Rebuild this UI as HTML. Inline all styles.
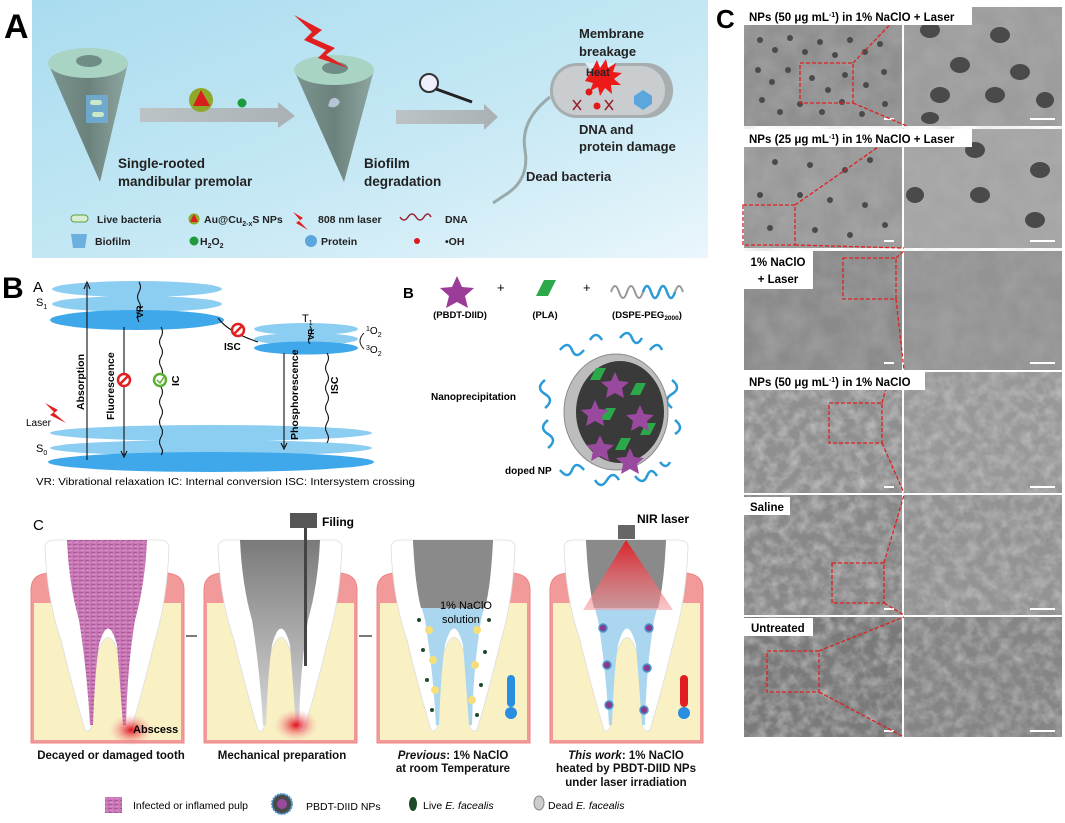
<!DOCTYPE html>
<html><head><meta charset="utf-8"><style>
html,body{margin:0;padding:0;background:#fff}
svg{display:block}
text{font-family:"Liberation Sans",sans-serif}
</style></head><body>
<svg width="1065" height="823" viewBox="0 0 1065 823" xmlns="http://www.w3.org/2000/svg">
<defs>
<linearGradient id="bgA" x1="0" y1="0" x2="1" y2="1"><stop offset="0" stop-color="#a9dcef"/><stop offset="0.6" stop-color="#c8e9f5"/><stop offset="1" stop-color="#eaf6fb"/></linearGradient>
<linearGradient id="cone" x1="0" x2="1"><stop offset="0" stop-color="#7d9590"/><stop offset="0.5" stop-color="#6b817c"/><stop offset="1" stop-color="#8fa7a1"/></linearGradient>
<linearGradient id="arr" x1="0" x2="1"><stop offset="0" stop-color="#bcc3c6"/><stop offset="1" stop-color="#a9b1b4"/></linearGradient>
<linearGradient id="pulpG" x1="0" y1="0" x2="0" y2="1"><stop offset="0" stop-color="#7a7a7a"/><stop offset="1" stop-color="#d8d8d8"/></linearGradient>
<linearGradient id="beam" x1="0" y1="0" x2="0" y2="1"><stop offset="0" stop-color="#e8101a"/><stop offset="1" stop-color="#f5a0a5" stop-opacity="0.7"/></linearGradient>
<radialGradient id="absc"><stop offset="0" stop-color="#e0101a"/><stop offset="1" stop-color="#f6b0b0" stop-opacity="0"/></radialGradient>
<pattern id="pulpP" width="6" height="4" patternUnits="userSpaceOnUse"><rect width="6" height="4" fill="#c878b4"/><rect width="4" height="1" fill="#a95898"/><rect x="2" y="2" width="3" height="1" fill="#d890c6"/></pattern>
<filter id="sem" x="0" y="0" width="100%" height="100%"><feTurbulence type="fractalNoise" baseFrequency="0.045" numOctaves="3" seed="3"/><feColorMatrix type="matrix" values="0 0 0 0 0.5  0 0 0 0 0.5  0 0 0 0 0.5  1.2 0 0 0 -0.3"/></filter>
<filter id="sem2" x="0" y="0" width="100%" height="100%"><feTurbulence type="fractalNoise" baseFrequency="0.09" numOctaves="3" seed="7"/><feColorMatrix type="matrix" values="0 0 0 0 0.75  0 0 0 0 0.75  0 0 0 0 0.75  1.4 0 0 0 -0.5"/></filter>
<g id="tooth"><path d="M14,8 Q14,0 24,0 L128,0 Q138,0 138,8 Q136,60 124,100 Q112,150 100,190 Q96,193 93,188 Q92,140 88,115 Q77,80 66,115 Q62,140 60,188 Q57,193 54,190 Q42,150 30,100 Q16,60 14,8 Z" fill="#fff" stroke="#ddd" stroke-width="0.8"/></g>
<path id="pulp" d="M36,0 L116,0 Q114,45 104,80 Q96,130 95,185 L92,185 Q88,130 86,105 Q77,72 68,105 Q64,130 62,185 L59,185 Q56,130 48,80 Q38,45 36,0Z"/>
<g id="box"><path d="M0,203 L0,50 Q0,33 20,33 L133,33 Q153,33 153,50 L153,203 Z" fill="#f29a9a" stroke="#ec8484" stroke-width="1"/><rect x="3" y="63" width="147" height="137" fill="#f9f0c4"/></g>
</defs>

<!-- Panel A -->
<rect x="32" y="0" width="676" height="258" fill="url(#bgA)"/>
<text x="4" y="38" font-size="34" font-weight="bold">A</text>
<text x="716" y="28" font-size="26" font-weight="bold">C</text>
<!-- cone1 -->
<path d="M48,63 L100,182 L128,63 Z" fill="url(#cone)"/>
<ellipse cx="88" cy="63" rx="40" ry="15" fill="#a9d3c3"/>
<ellipse cx="89" cy="61" rx="13" ry="6" fill="#6f8d86"/>
<rect x="86" y="95" width="22" height="28" fill="#6fb0e0" opacity="0.8"/>
<rect x="90" y="100" width="12" height="5" rx="2.5" fill="#cde8c8"/><rect x="92" y="112" width="12" height="5" rx="2.5" fill="#cde8c8"/>
<!-- arrow1 -->
<path d="M140,108 L278,108 L278,102 L295,116 L278,128 L278,122 L140,122 Z" fill="url(#arr)"/>
<circle cx="201" cy="100" r="12" fill="#8fa82a"/><path d="M193,106 L201,90 L210,106 Z" fill="#d81e1e"/>
<circle cx="242" cy="103" r="4.5" fill="#1f9a3a"/>
<text x="118" y="168" font-size="13.5" font-weight="bold" fill="#222">Single-rooted</text>
<text x="118" y="186" font-size="13.5" font-weight="bold" fill="#222">mandibular premolar</text>
<!-- cone2 -->
<path d="M294,70 L344,182 L374,70 Z" fill="url(#cone)"/>
<ellipse cx="334" cy="70" rx="40" ry="15" fill="#a9d3c3"/>
<ellipse cx="335" cy="68" rx="13" ry="6" fill="#6f8d86"/>
<path d="M330,100 q6,-5 10,2 q-4,8 -12,4z" fill="#b7c3d7"/>
<path d="M294,15 L322,30 L312,38 L335,48 L326,55 L348,68 L318,58 L326,50 L304,40 L312,32 Z" fill="#e21f1f"/>
<text x="364" y="168" font-size="13.5" font-weight="bold" fill="#222">Biofilm</text>
<text x="364" y="186" font-size="13.5" font-weight="bold" fill="#222">degradation</text>
<!-- arrow2 -->
<path d="M396,110 L484,110 L484,104 L498,117 L484,130 L484,124 L396,124 Z" fill="url(#arr)"/>
<circle cx="429" cy="83" r="9" fill="#eef" stroke="#333" stroke-width="2"/><line x1="436" y1="89" x2="472" y2="102" stroke="#222" stroke-width="3"/>
<!-- bacterium -->
<path d="M550,97 Q520,120 525,150 Q530,180 505,195 L493,203" fill="none" stroke="#9aa" stroke-width="3"/>
<rect x="550" y="63" width="123" height="55" rx="27" fill="#a8adb0"/>
<rect x="553" y="66" width="112" height="49" rx="24" fill="#c9cdd0"/>
<path d="M585,63 q15,20 30,0" fill="#dceff8"/>
<path d="M592,70 l5,-10 l3,8 l6,-9 l2,9 l8,-5 l-3,9 l9,1 l-8,6 l7,6 l-10,0 l1,9 l-7,-6 l-5,8 l-2,-9 l-8,4 l3,-8 l-8,-2 z" fill="#ee1a1a"/>
<text x="586" y="76" font-size="11" font-weight="bold" fill="#222">Heat</text>
<circle cx="589" cy="92" r="3.5" fill="#e01818"/><circle cx="597" cy="106" r="3.5" fill="#e01818"/><circle cx="643" cy="100" r="3.5" fill="#e01818"/>
<path d="M573,100 l8,10 M581,100 l-8,10 M605,100 l8,10 M613,100 l-8,10" stroke="#9a2030" stroke-width="1.5"/>
<path d="M634,96 l9,-6 l9,6 l0,8 l-9,6 l-9,-6z" fill="#5aa6dd"/>
<text x="579" y="38" font-size="13" font-weight="bold" fill="#222">Membrane</text>
<text x="579" y="56" font-size="13" font-weight="bold" fill="#222">breakage</text>
<text x="579" y="134" font-size="13" font-weight="bold" fill="#222">DNA and</text>
<text x="579" y="151" font-size="13" font-weight="bold" fill="#222">protein damage</text>
<text x="526" y="181" font-size="13" font-weight="bold" fill="#222">Dead bacteria</text>
<!-- legend A -->
<g font-size="10.5" font-weight="bold" fill="#222">
<rect x="71" y="215" width="17" height="7" rx="3.5" fill="#d9eed0" stroke="#5aa040"/><text x="97" y="223">Live bacteria</text>
<circle cx="194" cy="219" r="5.5" fill="#8fa82a"/><path d="M190,222 L194,214 L198,222Z" fill="#d81e1e"/><text x="204" y="223">Au@Cu<tspan font-size="7" dy="3">2-x</tspan><tspan dy="-3">S NPs</tspan></text>
<path d="M293,212 L303,218 L299,221 L308,230 L296,223 L300,220 Z" fill="#e21f1f"/><text x="318" y="223">808 nm laser</text>
<path d="M400,217 q4,6 8,0 t8,0 t8,0 t7,0" stroke="#9a2030" fill="none" stroke-width="1.5"/><text x="445" y="223">DNA</text>
<path d="M71,234 L87,234 L85,248 L73,248Z" fill="#6cb0e0"/><text x="95" y="245">Biofilm</text>
<circle cx="194" cy="241" r="4.5" fill="#1f9a3a"/><text x="200" y="245">H<tspan font-size="7" dy="3">2</tspan><tspan dy="-3">O</tspan><tspan font-size="7" dy="3">2</tspan></text>
<circle cx="311" cy="241" r="6" fill="#5aa6dd"/><text x="321" y="245">Protein</text>
<circle cx="417" cy="241" r="3" fill="#e01818"/><text x="445" y="245">•OH</text>
</g>

<!-- Panel B -->
<text x="2" y="298" font-size="30" font-weight="bold">B</text>
<text x="33" y="292" font-size="15">A</text>
<ellipse cx="137" cy="289" rx="85" ry="8" fill="#8ccdf2"/>
<ellipse cx="137" cy="304" rx="85" ry="8" fill="#8ccdf2"/>
<ellipse cx="137" cy="320" rx="87" ry="10" fill="#3ea8ea"/>
<text x="36" y="306" font-size="11">S<tspan font-size="7" dy="3">1</tspan></text>
<ellipse cx="306" cy="329" rx="52" ry="6" fill="#8ccdf2"/>
<ellipse cx="306" cy="339" rx="52" ry="6" fill="#8ccdf2"/>
<ellipse cx="306" cy="348" rx="52" ry="6.5" fill="#3ea8ea"/>
<text x="302" y="322" font-size="11">T<tspan font-size="7" dy="3">1</tspan></text>
<text x="366" y="334" font-size="10"><tspan font-size="7" dy="-3">1</tspan><tspan dy="3">O</tspan><tspan font-size="7" dy="3">2</tspan></text>
<text x="366" y="353" font-size="10"><tspan font-size="7" dy="-3">3</tspan><tspan dy="3">O</tspan><tspan font-size="7" dy="3">2</tspan></text>
<path d="M364,333 q-8,8 0,16" fill="none" stroke="#222"/>
<ellipse cx="211" cy="433" rx="161" ry="8" fill="#8ccdf2"/>
<ellipse cx="211" cy="448" rx="161" ry="8" fill="#8ccdf2"/>
<ellipse cx="211" cy="462" rx="163" ry="10" fill="#3ea8ea"/>
<text x="36" y="452" font-size="11">S<tspan font-size="7" dy="3">0</tspan></text>
<g stroke="#111" stroke-width="1.1" fill="none">
<line x1="87" y1="460" x2="87" y2="285"/><path d="M84,289 L87,282 L90,289"/>
<line x1="124" y1="327" x2="124" y2="455"/><path d="M121,451 L124,457 L127,451"/>
<path d="M161,327 q3,5 0,10 t0,10 t0,10 t0,10 t0,10 t0,10 t0,10 t0,10 t0,10 t0,10 t0,10 t0,10 t0,8"/>
<path d="M139,282 q3,5 0,10 t0,10 t0,10 t0,10"/>
<line x1="284" y1="353" x2="284" y2="447"/><path d="M281,443 L284,449 L287,443"/>
<path d="M327,353 q3,5 0,10 t0,10 t0,10 t0,10 t0,10 t0,10 t0,10 t0,10 t0,10"/>
<path d="M218,318 Q228,332 258,342"/>
<path d="M310,326 q3,5 0,10 t0,8"/>
</g>
<circle cx="124" cy="380" r="6" fill="#fff" stroke="#e02020" stroke-width="2.5"/><line x1="120" y1="384" x2="128" y2="376" stroke="#e02020" stroke-width="2.5"/>
<circle cx="160" cy="380" r="6" fill="#fff" stroke="#5ab030" stroke-width="2.5"/><path d="M157,380 l3,3 l4,-6" stroke="#5ab030" stroke-width="1.5" fill="none"/>
<circle cx="238" cy="330" r="6" fill="#fff" stroke="#e02020" stroke-width="2.5"/><line x1="234" y1="334" x2="242" y2="326" stroke="#e02020" stroke-width="2.5"/>
<text x="224" y="350" font-size="10" font-weight="bold">ISC</text>
<g font-size="10.5" font-weight="bold">
<text transform="translate(84,410) rotate(-90)">Absorption</text>
<text transform="translate(114,420) rotate(-90)">Fluorescence</text>
<text transform="translate(179,386) rotate(-90)">IC</text>
<text transform="translate(298,440) rotate(-90)">Phosphorescence</text>
<text transform="translate(338,394) rotate(-90)">ISC</text>
<text transform="translate(143,318) rotate(-90)" font-size="9">VR</text>
<text transform="translate(314,340) rotate(-90)" font-size="8">VR</text>
</g>
<path d="M45,403 L58,410 L54,413 L66,423 L50,415 L54,412 Z" fill="#e21f1f"/>
<text x="26" y="426" font-size="10">Laser</text>
<text x="36" y="485" font-size="10.5" textLength="379" lengthAdjust="spacingAndGlyphs">VR: Vibrational relaxation   IC: Internal conversion   ISC: Intersystem crossing</text>
<!-- right B -->
<text x="403" y="298" font-size="15" font-weight="bold">B</text>
<path d="M457,276 l5,11 l12,1 l-9,8 l3,12 l-11,-6 l-11,6 l3,-12 l-9,-8 l12,-1z" fill="#9a3c98"/>
<text x="497" y="292" font-size="13">+</text>
<path d="M536,296 l8,-16 l12,0 l-8,16z" fill="#2aa84a"/>
<text x="583" y="292" font-size="13">+</text>
<path d="M611,292 q4,-12 8,0 t8,0 t8,0 t8,0 t8,0 t8,0 t8,0 t8,0 t8,0" fill="none" stroke="#999" stroke-width="2"/>
<path d="M643,292 q4,-12 8,0 t8,0 t8,0 t8,0" fill="none" stroke="#2a9ad8" stroke-width="2.5"/>
<g font-size="9.5" font-weight="bold" text-anchor="middle">
<text x="460" y="318">(PBDT-DIID)</text><text x="545" y="318">(PLA)</text><text x="647" y="318">(DSPE-PEG<tspan font-size="6.5" dy="2">2000</tspan><tspan dy="-2">)</tspan></text>
</g>
<text x="431" y="400" font-size="10" font-weight="bold">Nanoprecipitation</text>
<text x="505" y="474" font-size="10" font-weight="bold">doped NP</text>
<g fill="none" stroke="#2a9ad8" stroke-width="2.5">
<path d="M560,350 q8,-10 12,0 t12,0 M590,340 q6,-10 12,0 M620,338 q8,-10 12,0 t10,0 M650,350 q8,-10 12,0 M545,380 q-10,8 0,14 t0,14 M548,420 q-10,8 0,14 t0,14 M672,380 q10,8 0,14 t0,14 M675,420 q10,8 0,14 M560,470 q8,10 12,0 t12,0 M595,480 q6,10 12,0 t12,0 M635,476 q8,10 12,0 t10,0 M660,462 q6,8 10,0"/>
</g>
<ellipse cx="616" cy="412" rx="52" ry="58" fill="#bdbdbd" stroke="#8a8a8a"/>
<ellipse cx="620" cy="412" rx="44" ry="51" fill="#3a3a3a"/>
<g fill="#2aa84a"><path d="M590,380 l6,-12 l10,0 l-6,12z M630,395 l6,-12 l10,0 l-6,12z M600,420 l6,-12 l10,0 l-6,12z M640,435 l6,-12 l10,0 l-6,12z M615,450 l6,-12 l10,0 l-6,12z"/></g>
<g fill="#9a4a9e"><path d="M615,372 l4,9 l10,1 l-7,6 l2,10 l-9,-5 l-9,5 l2,-10 l-7,-6 l10,-1z M595,400 l4,9 l10,1 l-7,6 l2,10 l-9,-5 l-9,5 l2,-10 l-7,-6 l10,-1z M640,405 l4,9 l10,1 l-7,6 l2,10 l-9,-5 l-9,5 l2,-10 l-7,-6 l10,-1z M600,435 l4,9 l10,1 l-7,6 l2,10 l-9,-5 l-9,5 l2,-10 l-7,-6 l10,-1z M630,448 l4,9 l10,1 l-7,6 l2,10 l-9,-5 l-9,5 l2,-10 l-7,-6 l10,-1z"/></g>

<!-- Panel C teeth -->
<text x="33" y="530" font-size="15">C</text>
<g transform="translate(31,540)"><use href="#box"/><use href="#tooth"/><use href="#pulp" fill="url(#pulpP)"/><ellipse cx="100" cy="190" rx="22" ry="16" fill="url(#absc)"/></g>
<g transform="translate(204,540)"><use href="#box"/><use href="#tooth"/><use href="#pulp" fill="url(#pulpG)"/><ellipse cx="92" cy="185" rx="22" ry="16" fill="url(#absc)"/></g>
<g transform="translate(377,540)"><use href="#box"/><use href="#tooth"/><use href="#pulp" fill="#aad7ef"/><path d="M36,0 L116,0 Q114,45 108,68 L44,68 Q38,45 36,0Z" fill="#8a8a8a"/>
<g fill="#f6df7a"><circle cx="52" cy="90" r="4"/><circle cx="56" cy="120" r="4"/><circle cx="58" cy="150" r="4"/><circle cx="100" cy="90" r="4"/><circle cx="98" cy="125" r="4"/><circle cx="95" cy="160" r="4"/></g>
<g fill="#1f4a2a"><circle cx="42" cy="80" r="2"/><circle cx="46" cy="110" r="2"/><circle cx="50" cy="140" r="2"/><circle cx="55" cy="170" r="2"/><circle cx="112" cy="80" r="2"/><circle cx="108" cy="112" r="2"/><circle cx="104" cy="145" r="2"/><circle cx="100" cy="175" r="2"/></g>
<rect x="130" y="135" width="8" height="32" rx="4" fill="#2a8ee0"/><circle cx="134" cy="173" r="6" fill="#2a8ee0"/></g>
<g transform="translate(550,540)"><use href="#box"/><use href="#tooth"/><use href="#pulp" fill="#aad7ef"/><path d="M36,0 L116,0 Q114,45 108,68 L44,68 Q38,45 36,0Z" fill="#8a8a8a"/>
<path d="M76,0 L33,70 L123,70 Z" fill="url(#beam)" opacity="0.85"/>
<g fill="#8a3a8a" stroke="#4a9ad0" stroke-width="1.5"><circle cx="53" cy="88" r="4"/><circle cx="57" cy="125" r="4"/><circle cx="59" cy="165" r="4"/><circle cx="99" cy="88" r="4"/><circle cx="97" cy="128" r="4"/><circle cx="94" cy="170" r="4"/></g>
<rect x="130" y="135" width="8" height="32" rx="4" fill="#e02020"/><circle cx="134" cy="173" r="6" fill="#2a8ee0"/></g>
<rect x="290" y="513" width="27" height="15" fill="#555"/><rect x="304" y="528" width="3" height="138" fill="#444"/>
<text x="322" y="526" font-size="12" font-weight="bold">Filing</text>
<rect x="618" y="525" width="17" height="14" fill="#666"/>
<text x="637" y="523" font-size="12" font-weight="bold">NIR laser</text>
<text x="440" y="609" font-size="11">1% NaClO</text><text x="442" y="623" font-size="11">solution</text>
<text x="133" y="733" font-size="11" font-weight="bold">Abscess</text>
<g stroke="#222" stroke-width="1.2"><line x1="186" y1="636" x2="197" y2="636"/><line x1="359" y1="636" x2="372" y2="636"/></g>
<g font-size="11.5" font-weight="bold" text-anchor="middle" fill="#111">
<text x="111" y="759">Decayed or damaged tooth</text>
<text x="282" y="759">Mechanical preparation</text>
<text x="453" y="759"><tspan font-style="italic">Previous</tspan>: 1% NaClO</text>
<text x="453" y="772">at room Temperature</text>
<text x="626" y="759"><tspan font-style="italic">This work</tspan>: 1% NaClO</text>
<text x="626" y="772">heated by PBDT-DIID NPs</text>
<text x="626" y="786">under laser irradiation</text>
</g>
<g font-size="10.5">
<rect x="105" y="797" width="17" height="16" fill="url(#pulpP)"/><text x="133" y="809">Infected or inflamed pulp</text>
<circle cx="282" cy="804" r="10" fill="#4a4a4a" stroke="#4a9ad0" stroke-width="2" stroke-dasharray="2 1"/><circle cx="282" cy="804" r="5" fill="#9a4a9e"/><text x="306" y="810">PBDT-DIID  NPs</text>
<ellipse cx="413" cy="804" rx="4" ry="7" fill="#1f4a2a"/><text x="423" y="809">Live <tspan font-style="italic">E. facealis</tspan></text>
<ellipse cx="539" cy="803" rx="5" ry="7" fill="#ccc" stroke="#888"/><text x="548" y="809">Dead <tspan font-style="italic">E. facealis</tspan></text>
</g>

<!-- SEM panel -->
<rect x="742" y="5" width="322" height="734" fill="#fff"/>
<g>
<rect x="744" y="7" width="158" height="119" fill="#8e8e8e"/><rect x="904" y="7" width="158" height="119" fill="#9c9c9c"/>
<rect x="744" y="129" width="158" height="119" fill="#979797"/><rect x="904" y="129" width="158" height="119" fill="#a4a4a4"/>
<rect x="744" y="251" width="158" height="119" fill="#8a8a8a"/><rect x="904" y="251" width="158" height="119" fill="#939393"/>
<rect x="744" y="372" width="158" height="121" fill="#8f8f8f"/><rect x="904" y="372" width="158" height="121" fill="#989898"/>
<rect x="744" y="495" width="158" height="120" fill="#888"/><rect x="904" y="495" width="158" height="120" fill="#939393"/>
<rect x="744" y="617" width="158" height="120" fill="#7a7a7a"/><rect x="904" y="617" width="158" height="120" fill="#858585"/>
</g>
<rect x="744" y="7" width="158" height="363" filter="url(#sem)" opacity="0.5"/>
<rect x="904" y="7" width="158" height="363" filter="url(#sem)" opacity="0.4"/>
<rect x="744" y="372" width="158" height="365" filter="url(#sem2)" opacity="0.7"/>
<rect x="904" y="372" width="158" height="365" filter="url(#sem2)" opacity="0.6"/>
<g fill="#4a4a4a">
<circle cx="760" cy="40" r="3"/><circle cx="775" cy="50" r="3"/><circle cx="790" cy="38" r="3"/><circle cx="805" cy="52" r="3"/><circle cx="820" cy="42" r="3"/><circle cx="835" cy="55" r="3"/><circle cx="850" cy="40" r="3"/><circle cx="865" cy="52" r="3"/><circle cx="880" cy="44" r="3"/>
<circle cx="758" cy="70" r="3"/><circle cx="772" cy="82" r="3"/><circle cx="788" cy="70" r="3"/><circle cx="812" cy="78" r="3"/><circle cx="828" cy="90" r="3"/><circle cx="845" cy="75" r="3"/><circle cx="866" cy="85" r="3"/><circle cx="884" cy="72" r="3"/>
<circle cx="762" cy="100" r="3"/><circle cx="780" cy="112" r="3"/><circle cx="800" cy="104" r="3"/><circle cx="822" cy="112" r="3"/><circle cx="842" cy="102" r="3"/><circle cx="862" cy="114" r="3"/><circle cx="885" cy="104" r="3"/>
<ellipse cx="930" cy="30" rx="10" ry="8"/><ellipse cx="1000" cy="35" rx="10" ry="8"/><ellipse cx="960" cy="65" rx="10" ry="8"/><ellipse cx="1020" cy="72" rx="10" ry="8"/><ellipse cx="940" cy="95" rx="10" ry="8"/><ellipse cx="995" cy="95" rx="10" ry="8"/><ellipse cx="1045" cy="100" rx="9" ry="8"/><ellipse cx="930" cy="118" rx="9" ry="6"/>
<circle cx="775" cy="162" r="3"/><circle cx="810" cy="165" r="3"/><circle cx="845" cy="170" r="3"/><circle cx="870" cy="160" r="3"/><circle cx="760" cy="195" r="3"/><circle cx="800" cy="195" r="3"/><circle cx="830" cy="200" r="3"/><circle cx="865" cy="205" r="3"/><circle cx="770" cy="228" r="3"/><circle cx="815" cy="230" r="3"/><circle cx="850" cy="235" r="3"/><circle cx="885" cy="225" r="3"/>
<ellipse cx="975" cy="150" rx="10" ry="8"/><ellipse cx="1040" cy="170" rx="10" ry="8"/><ellipse cx="915" cy="195" rx="9" ry="8"/><ellipse cx="980" cy="195" rx="10" ry="8"/><ellipse cx="1035" cy="220" rx="10" ry="8"/>
</g>
<g fill="#fff"><rect x="884" y="118" width="10" height="2"/><rect x="1030" y="118" width="25" height="2"/><rect x="884" y="240" width="10" height="2"/><rect x="1030" y="240" width="25" height="2"/><rect x="884" y="362" width="10" height="2"/><rect x="1030" y="362" width="25" height="2"/><rect x="884" y="486" width="10" height="2"/><rect x="1030" y="486" width="25" height="2"/><rect x="884" y="608" width="10" height="2"/><rect x="1030" y="608" width="25" height="2"/><rect x="884" y="730" width="10" height="2"/><rect x="1030" y="730" width="25" height="2"/></g>
<g fill="none" stroke="#e02020" stroke-width="1.3" stroke-dasharray="4 2">
<rect x="800" y="63" width="53" height="40"/><path d="M853,63 L907,7 M853,103 L907,126"/>
<rect x="743" y="205" width="52" height="40"/><path d="M795,205 L904,129 M795,245 L904,248"/>
<rect x="843" y="258" width="53" height="41"/><path d="M896,258 L904,251 M896,299 L904,370"/>
<rect x="829" y="403" width="53" height="40"/><path d="M882,403 L890,372 M882,443 L904,493"/>
<rect x="832" y="563" width="52" height="40"/><path d="M884,563 L904,495 M884,603 L904,615"/>
<rect x="767" y="651" width="52" height="41"/><path d="M819,651 L904,617 M819,692 L904,737"/>
</g>
<g font-size="11.5" font-weight="bold">
<rect x="744" y="7" width="228" height="18" fill="#fff"/><text x="749" y="21">NPs (50 μg mL<tspan font-size="7" dy="-4">-1</tspan><tspan dy="4">) in 1% NaClO + Laser</tspan></text>
<rect x="744" y="129" width="228" height="18" fill="#fff"/><text x="749" y="143">NPs (25 μg mL<tspan font-size="7" dy="-4">-1</tspan><tspan dy="4">) in 1% NaClO + Laser</tspan></text>
<rect x="744" y="251" width="69" height="38" fill="#fff"/><text x="778" y="266" text-anchor="middle">1% NaClO</text><text x="778" y="283" text-anchor="middle">+ Laser</text>
<rect x="744" y="372" width="181" height="18" fill="#fff"/><text x="749" y="386">NPs (50 μg mL<tspan font-size="7" dy="-4">-1</tspan><tspan dy="4">) in 1% NaClO</tspan></text>
<rect x="744" y="497" width="46" height="18" fill="#fff"/><text x="750" y="511">Saline</text>
<rect x="744" y="618" width="69" height="18" fill="#fff"/><text x="751" y="632">Untreated</text>
</g>
</svg>
</body></html>
